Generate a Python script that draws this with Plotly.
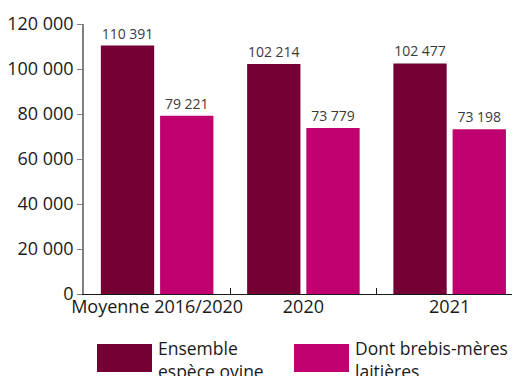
import plotly.graph_objects as go

# Effectifs d'ovins
categories = ["Moyenne 2016/2020", "2020", "2021"]
series_names = ["Ensemble<br>espèce ovine", "Dont brebis-mères<br>laitières"]
ensemble = [110391, 102214, 102477]
brebis_laitieres = [79221, 73779, 73198]
colors = ["#750033", "#c0006f"]
y_ticks = [0, 20000, 40000, 60000, 80000, 100000, 120000]

# la page ajoute une marge de 8 px : la figure est decalee d'autant
OFF = 8
W, H = 520 - OFF, 376 - OFF
L, R, T, B = 84 - OFF, 0, 24 - OFF, 82
FONT = "Open Sans"

fig = go.Figure()
for name, vals, col in zip(series_names, [ensemble, brebis_laitieres], colors):
    fig.add_trace(go.Bar(
        x=categories,
        y=vals,
        name=name,
        marker=dict(color=col, line=dict(width=0)),
        texttemplate="%{y:,}",
        textposition="outside",
        textfont=dict(family=FONT, size=14, color="#3a3a3a"),
        cliponaxis=False,
        showlegend=False,
    ))

fig.update_layout(
    width=W,
    height=H,
    margin=dict(l=L, r=R, t=T, b=B, autoexpand=False),
    paper_bgcolor="white",
    plot_bgcolor="white",
    separators=", ",
    barmode="group",
    bargap=0.19,
    bargroupgap=0.1,
    font=dict(family=FONT, size=18, color="#1a1a1a"),
)
fig.update_xaxes(
    range=[-0.5, 2.481],
    automargin=False,
    tickangle=0,
    ticklabelstandoff=-4,
    showline=True,
    linecolor="#1a1a1a",
    linewidth=1,
    ticks="inside",
    tickson="boundaries",
    ticklen=6,
    tickcolor="#1a1a1a",
    showgrid=False,
    tickfont=dict(family=FONT, size=18, color="#1a1a1a"),
)
fig.update_yaxes(
    range=[0, 120000],
    automargin=False,
    tickvals=y_ticks,
    tickformat=",",
    showline=True,
    linecolor="#808080",
    linewidth=1.5,
    ticks="outside",
    ticklen=5,
    tickcolor="#808080",
    showgrid=False,
    zeroline=False,
    tickfont=dict(family=FONT, size=18, color="#1a1a1a"),
)

# legende dessinee a la main (grands carres)
plot_w = W - L - R
plot_h = H - T - B


def px_x(p):
    return (p - OFF - L) / plot_w


def px_y(p):
    return (H - B - (p - OFF)) / plot_h


legend_x = [97, 294]
for lx, name, col in zip(legend_x, series_names, colors):
    fig.add_shape(
        type="rect", xref="paper", yref="paper",
        x0=px_x(lx), x1=px_x(lx + 55), y0=px_y(372), y1=px_y(344),
        fillcolor=col, line=dict(width=0),
    )
    fig.add_annotation(
        xref="paper", yref="paper",
        x=px_x(lx + 59), y=px_y(334),
        xanchor="left", yanchor="top",
        text=name, showarrow=False, align="left",
        font=dict(family=FONT, size=17.5, color="#1a1a1a"),
    )

fig.write_html("out.html")
